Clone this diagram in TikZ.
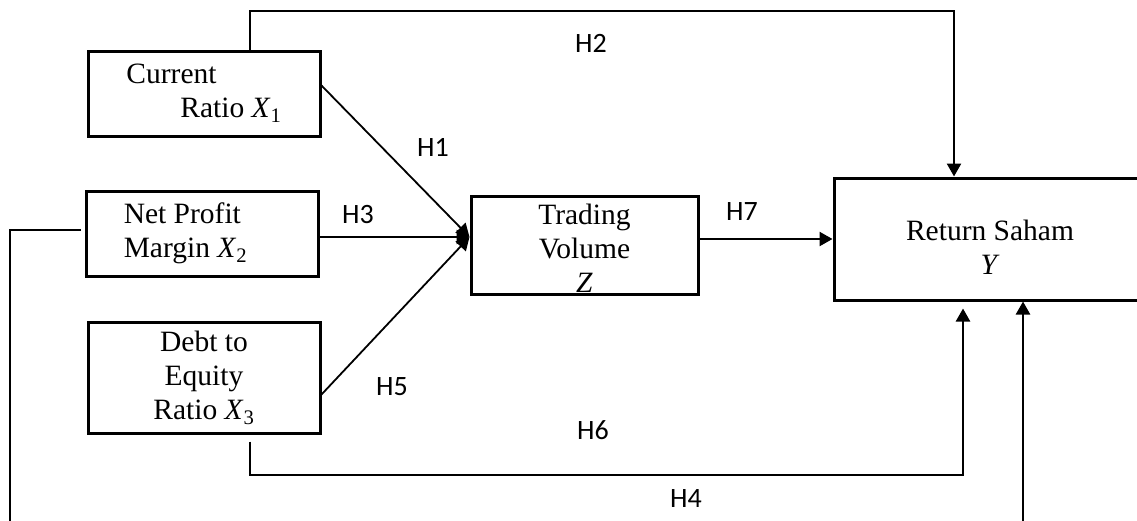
\documentclass[tikz,border=0pt]{standalone}
\usepackage{fontspec}
\setmainfont{Liberation Serif}
\newfontfamily\hfont{Carlito}
\usetikzlibrary{arrows.meta,calc}
\tikzset{
  boite/.style={draw,line width=3pt,inner sep=0pt,align=center,
    font=\fontsize{29.5}{34}\selectfont},
  fleche/.style={line width=2.4pt,-{Triangle[length=13pt,width=14pt]}},
  hyp/.style={font=\hfont\fontsize{28}{30}\selectfont,inner sep=0pt},
}
\begin{document}
\begin{tikzpicture}[x=1pt,y=-1pt]  % ------ Le modele -----------------------------
    \useasboundingbox (0,0) rectangle (1137,520);
    \clip (0,0) rectangle (1137,520);
    \node[boite,minimum width=232,minimum height=85,align=left] (x1) at (204,93.5)
      {Current\\\hspace*{54pt}Ratio \textit{X}\textsubscript{1}};
    \node[boite,minimum width=232,minimum height=85,align=left] (x2) at (202,233.5)
      {Net Profit\\Margin \textit{X}\textsubscript{2}\hspace*{33pt}};
    \node[boite,minimum width=232,minimum height=111] (x3) at (204,377.5)
      {Debt to\\Equity\\Ratio \textit{X}\textsubscript{3}};
    \node[boite,minimum width=227,minimum height=98] (z) at (584.5,245)
      {\rule{0pt}{26pt}Trading\\Volume\\\textit{Z}};
    \node[boite,minimum width=312,minimum height=122] (y) at (990,239)
      {\rule{0pt}{37pt}Return Saham\\\textit{Y}};
    \node[hyp] (h1) at (433,147) {H1};
    \node[hyp] (h2) at (591,43) {H2};
    \node[hyp] (h3) at (358,215) {H3};
    \node[hyp] (h4) at (686,499) {H4};
    \node[hyp] (h5) at (392,387) {H5};
    \node[hyp] (h6) at (593,430) {H6};
    \node[hyp] (h7) at (742,212) {H7};
    \coordinate (zin) at ($(z.west)+(0,-8)$);
    \draw[fleche,line width=1.8pt] ($(x1.east)+(0,-8)$) -- (zin);
    \draw[fleche] (x2.east |- zin) -- (zin);
    \draw[fleche,line width=1.8pt] ($(x3.east)+(0,17)$) -- (zin);
    \draw[fleche] (z.east |- y.west) -- (y.west);
    \coordinate (c2) at (954,11);
    \draw[fleche] ($(x1.north)+(46,0)$) |- (c2) -- (c2 |- y.north);
    \coordinate (c6) at (963,475);
    \draw[fleche] ($(x3.south)+(46,7)$) |- (c6) -- ($(y.south)+(-27,7)$);
    \coordinate (c4a) at (10,530);
    \coordinate (c4b) at (1023,530);
    \draw[fleche] ($(x2.west)+(-4,-3.5)$) -| (c4a) -- (c4b) -- (c4b |- y.south);
\end{tikzpicture}
\end{document}
